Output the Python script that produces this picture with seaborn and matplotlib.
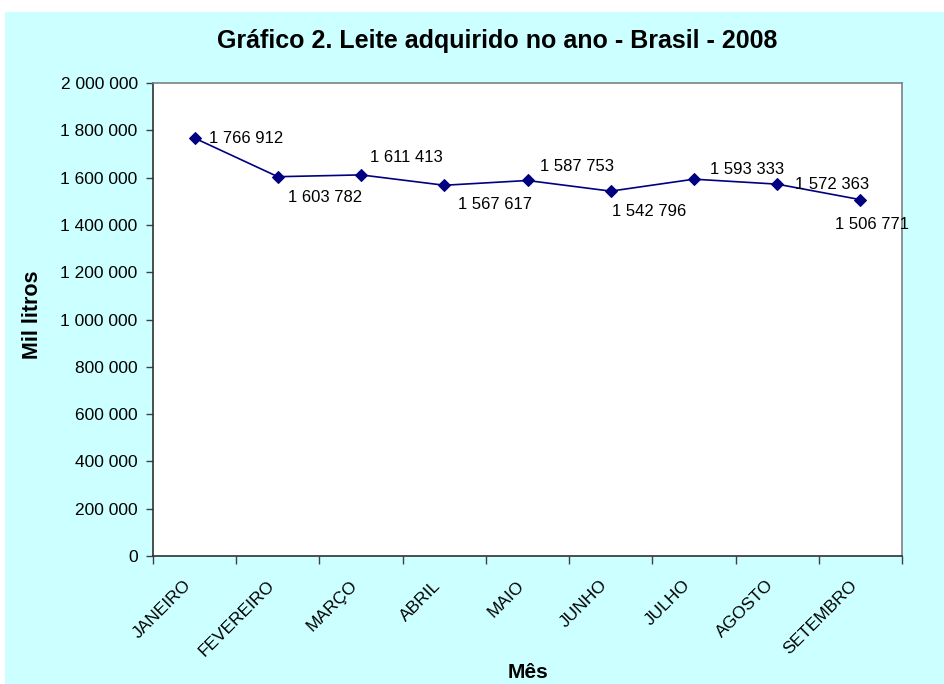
"""
Gráfico 2 - Leite adquirido no ano - Brasil - 2008
"""

import numpy as np
import pandas as pd
import matplotlib
matplotlib.use("Agg")
import matplotlib.pyplot as plt
import matplotlib.transforms as mtransforms
import seaborn as sns
from matplotlib.patches import Rectangle

# -------------------------
# DATA
# -------------------------
meses = ["JANEIRO", "FEVEREIRO", "MARÇO", "ABRIL", "MAIO",
         "JUNHO", "JULHO", "AGOSTO", "SETEMBRO"]
leite = [1766912, 1603782, 1611413, 1567617, 1587753,
         1542796, 1593333, 1572363, 1506771]
y_ticks = [0, 200000, 400000, 600000, 800000, 1000000,
           1200000, 1400000, 1600000, 1800000, 2000000]

# label offsets in pixels (dx, dy) from each marker
label_offsets = [(14, 0), (10, -21), (9, 17), (14, -19), (13, 14),
                 (1, -20), (16, 10), (18, 0), (-25, -25)]


def fmt(v):
    return f"{v:,}".replace(",", " ")


sns.set_style("white")
plt.rcParams['font.family'] = ['Liberation Sans', 'DejaVu Sans']
plt.rcParams['text.color'] = 'black'
plt.rcParams['xtick.color'] = 'black'
plt.rcParams['ytick.color'] = 'black'

df = pd.DataFrame({"Mês": meses, "Mil litros": leite})

fig = plt.figure(figsize=(9.44, 6.84), dpi=100, facecolor="#CCFFFF")
# white margin strips (top and left) around the cyan chart area
fig.patches.append(Rectangle((0, 1 - 12 / 684), 1, 12 / 684, transform=fig.transFigure,
                             facecolor="white", edgecolor="none"))
fig.patches.append(Rectangle((0, 0), 5 / 944, 1, transform=fig.transFigure,
                             facecolor="white", edgecolor="none"))
ax = fig.add_axes([153 / 944, 1 - 556 / 684, 749 / 944, 473 / 684])
ax.set_facecolor("white")

sns.lineplot(data=df, x="Mês", y="Mil litros", ax=ax, color="#000080",
             marker="D", markersize=6, markeredgecolor="#000080",
             linewidth=1.2, sort=False)

# data labels
for i, (v, off) in enumerate(zip(leite, label_offsets)):
    ax.annotate(fmt(v), (i, v), xytext=off, textcoords="offset pixels",
                ha="left", va="center", fontsize=12, color="black")

ax.set_xlim(-0.5, len(meses) - 0.5)
ax.set_ylim(0, 2000000)
ax.set_yticks(y_ticks)
ax.set_yticklabels([fmt(t) for t in y_ticks], fontsize=12.5)

ax.set_xticks(range(len(meses)))
ax.set_xticklabels(meses, fontsize=12.5, rotation=45, ha="right",
                   va="top", rotation_mode="anchor")
ax.tick_params(axis="x", which="major", length=0, pad=12)
shift = mtransforms.ScaledTranslation(-11 / 100, -5 / 100, fig.dpi_scale_trans)
for lbl in ax.get_xticklabels():
    lbl.set_transform(lbl.get_transform() + shift)
ax.set_xticks(np.arange(-0.5, len(meses)), minor=True)
ax.tick_params(axis="x", which="minor", length=6, width=1, color="#404040",
               direction="out", bottom=True)
ax.tick_params(axis="y", length=5, width=1, color="#404040", direction="out",
               left=True, pad=6)

for side in ["left", "bottom"]:
    ax.spines[side].set_color("#303030")
    ax.spines[side].set_linewidth(1.2)
for side in ["top", "right"]:
    ax.spines[side].set_color("#808080")
    ax.spines[side].set_linewidth(1.2)

ax.set_xlabel("")
ax.set_ylabel("")
fig.text(528 / 944, 1 - 672 / 684, "Mês", ha="center", va="center",
         fontsize=15, fontweight="bold")
fig.text(33 / 944, 1 - 315 / 684, "Mil litros", ha="center", va="center",
         rotation=90, fontsize=15.5, fontweight="bold")
fig.text(497 / 944, 1 - 41 / 684, "Gráfico 2. Leite adquirido no ano - Brasil - 2008",
         ha="center", va="center", fontsize=18, fontweight="bold")

fig.savefig("out.png", dpi=100, facecolor=fig.get_facecolor())
